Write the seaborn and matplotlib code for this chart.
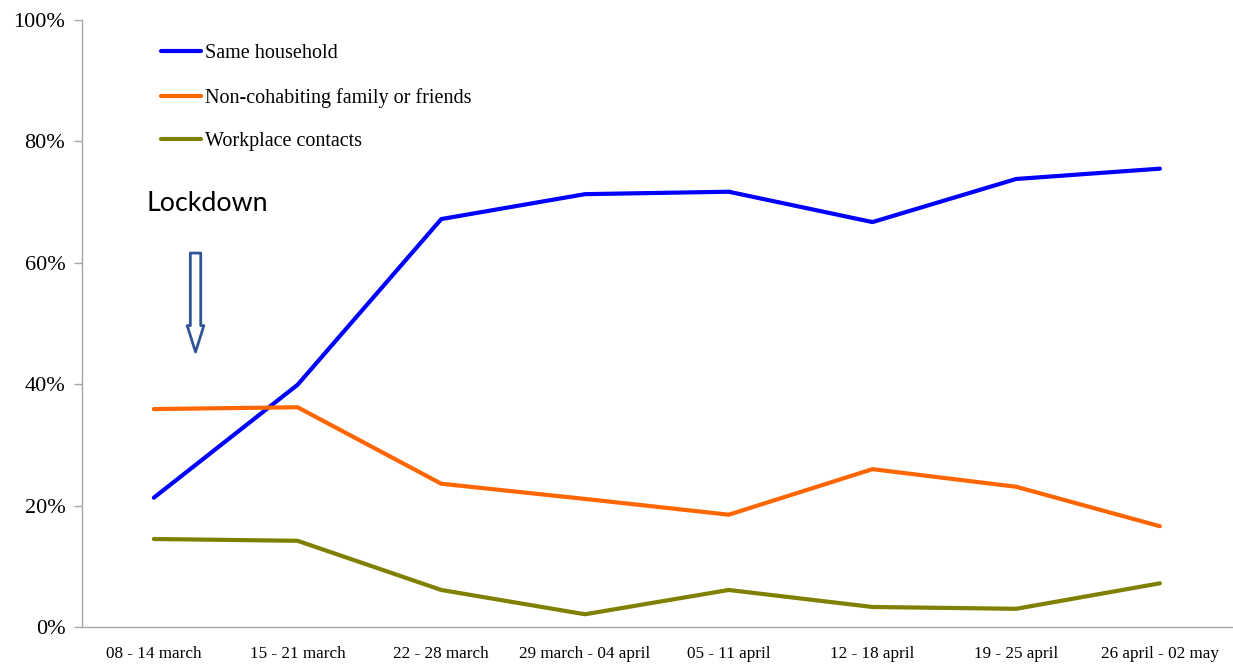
import numpy as np
import pandas as pd
import matplotlib
matplotlib.use("Agg")
import matplotlib.pyplot as plt
import seaborn as sns

weeks = ['08 - 14 march', '15 - 21 march', '22 - 28 march', '29 march - 04 april',
         '05 - 11 april', '12 - 18 april', '19 - 25 april', '26 april - 02 may']
household = [21.3, 39.9, 67.2, 71.3, 71.7, 66.7, 73.8, 75.5]
noncohab = [35.9, 36.2, 23.6, 21.1, 18.5, 26.0, 23.1, 16.6]
workplace = [14.5, 14.2, 6.1, 2.1, 6.1, 3.3, 3.0, 7.2]

series_names = ['Same household', 'Non-cohabiting family or friends', 'Workplace contacts']
colors = ['#0000FF', '#FF6600', '#808000']


def main():
    sns.set_style("white")
    plt.rcParams['font.family'] = ['Liberation Serif', 'DejaVu Serif']
    plt.rcParams['text.color'] = 'black'
    plt.rcParams['xtick.labelcolor'] = 'black'
    plt.rcParams['ytick.labelcolor'] = 'black'

    rows = []
    for name, vals in zip(series_names, [household, noncohab, workplace]):
        for i, v in enumerate(vals):
            rows.append({'x': i, 'value': v, 'series': name})
    df = pd.DataFrame(rows)

    fig = plt.figure(figsize=(12.33, 6.64), dpi=100)
    ax = fig.add_axes([0.0665, 0.0557, 0.9325, 0.9143])

    sns.lineplot(data=df, x='x', y='value', hue='series', hue_order=series_names,
                 palette=colors, linewidth=3, ax=ax)

    ax.set_xlim(-0.5, 7.5)
    ax.set_ylim(0, 100)
    ax.set_yticks([0, 20, 40, 60, 80, 100])
    ax.set_yticklabels(['0%', '20%', '40%', '60%', '80%', '100%'], fontsize=16)
    ax.set_xticks(range(len(weeks)))
    ax.set_xticklabels(weeks, fontsize=12.3)
    ax.set_xticks(np.arange(-0.5, 8, 1), minor=True)
    ax.tick_params(axis='x', which='major', length=0, pad=14)
    ax.tick_params(axis='x', which='minor', length=6, color='#A6A6A6', width=1)
    ax.tick_params(axis='y', length=6, color='#A6A6A6', width=1, pad=6, left=True)
    ax.set_xlabel('')
    ax.set_ylabel('')

    for s in ['top', 'right']:
        ax.spines[s].set_visible(False)
    for s in ['left', 'bottom']:
        ax.spines[s].set_color('#A6A6A6')
        ax.spines[s].set_linewidth(1)

    ax.legend(loc='upper left', bbox_to_anchor=(0.053, 0.99), frameon=False,
              fontsize=14.5, handlelength=2.0, handletextpad=0.2, labelspacing=1.22)

    ax.text(0.056, 0.698, 'Lockdown', transform=ax.transAxes, fontsize=19.3,
            family=['Lato', 'DejaVu Sans'], va='center', ha='left')

    ax.annotate('', xy=(0.29, 45.3), xytext=(0.29, 61.6),
                arrowprops=dict(arrowstyle='simple,head_length=1.9,head_width=1.2,tail_width=0.75',
                                fc='white', ec='#2F5597', lw=2, shrinkA=0, shrinkB=0,
                                mutation_scale=10))

    fig.savefig('out.png', dpi=100)


if __name__ == '__main__':
    main()
